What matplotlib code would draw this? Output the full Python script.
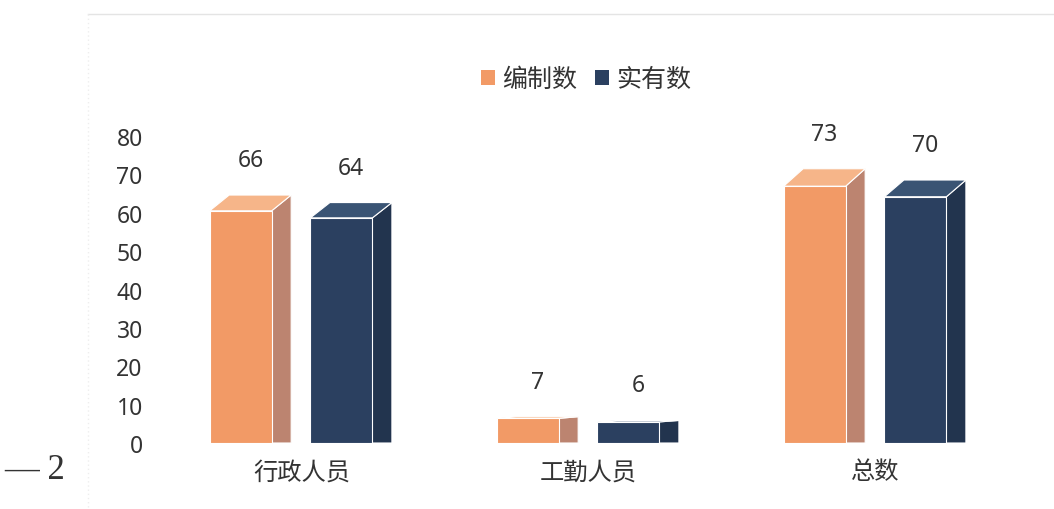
import matplotlib
matplotlib.use("Agg")
import matplotlib.pyplot as plt
from matplotlib.patches import Polygon, Rectangle
from matplotlib.lines import Line2D

plt.rcParams['font.family'] = ['Noto Sans CJK SC', 'DejaVu Sans']

categories = ['行政人员', '工勤人员', '总数']
series_names = ['编制数', '实有数']
planned = [66, 7, 73]
actual = [64, 6, 70]
yticks = [0, 10, 20, 30, 40, 50, 60, 70, 80]

front_colors = ['#F29A66', '#2B4060']
top_colors = ['#F6B589', '#3A5474']
side_colors = ['#BC8470', '#22344E']
text_color = '#333333'
num_family = ['Noto Sans', 'DejaVu Sans']

W, H = 1054, 510
fig = plt.figure(figsize=(W / 100, H / 100), dpi=100)
fig.patch.set_facecolor('white')

left, right = 158 / W, 1019 / W
bottom, top = (H - 444) / H, (H - 137) / H
rect = [left, bottom, right - left, top - bottom]

# tick axis (back wall scale)
ax = fig.add_axes(rect)
ax.set_xlim(-0.5, 2.5)
ax.set_ylim(0, 80)
ax.set_yticks(yticks)
ax.set_yticklabels([str(v) for v in yticks], fontsize=16.5, color=text_color,
                   family=num_family)
ax.set_xticks(range(len(categories)))
ax.set_xticklabels(categories, fontsize=17.5, color=text_color)
ax.tick_params(axis='y', length=0, pad=11)
ax.tick_params(axis='x', length=0, pad=11)
for s in ax.spines.values():
    s.set_visible(False)
ax.patch.set_alpha(0)

# bar axis (front-face scale, perspective-reduced)
bx = fig.add_axes(rect)
bx.set_xlim(-0.5, 2.5)
bx.set_ylim(0, 80 * 3.84 / 3.52)
bx.axis('off')
bx.patch.set_alpha(0)

bw = 0.216
offsets = [-0.32 + bw / 2, 0.031 + bw / 2]
dx = 0.068
kdy = 0.068

for si, vals in enumerate([planned, actual]):
    for ci, v in enumerate(vals):
        xc = ci + offsets[si]
        xl, xr = xc - bw / 2, xc + bw / 2
        dy = kdy * v
        bx.bar(xc, v, width=bw, color=front_colors[si], edgecolor='white',
               linewidth=0.8, zorder=3)
        side = Polygon([(xr, 0), (xr, v), (xr + dx, v + dy), (xr + dx, 0)],
                       closed=True, facecolor=side_colors[si], edgecolor='white',
                       linewidth=0.8, zorder=2)
        bx.add_patch(side)
        topf = Polygon([(xl, v), (xr, v), (xr + dx, v + dy), (xl + dx, v + dy)],
                       closed=True, facecolor=top_colors[si], edgecolor='white',
                       linewidth=0.8, zorder=2)
        bx.add_patch(topf)
        bx.annotate(str(v), xy=(xc + dx / 2, v + dy), xytext=(0, 35),
                    textcoords='offset pixels', ha='center', va='center',
                    fontsize=16.5, color=text_color, family=num_family)

# legend
handles = [Rectangle((0, 0), 1, 1, facecolor=front_colors[i], edgecolor='none')
           for i in range(2)]
fig.legend(handles, series_names, loc='center', bbox_to_anchor=(586 / W, (H - 80) / H),
           ncol=2, frameon=False, fontsize=18, handlelength=0.55, handleheight=0.55,
           handletextpad=0.3, columnspacing=0.7, labelcolor=text_color)

# scanned page frame and page number
fig.add_artist(Line2D([88 / W, 1.0], [(H - 15) / H, (H - 15) / H],
                      transform=fig.transFigure, color='#e4e4e4', linewidth=1))
fig.add_artist(Line2D([88 / W, 88 / W], [(H - 15) / H, 0],
                      transform=fig.transFigure, color='#eeeeee', linewidth=1,
                      linestyle=(0, (1, 2))))
fig.text(4 / W, (H - 471) / H, '— 2', fontsize=25, family='Liberation Serif',
         color='#333333', ha='left', va='center')

fig.savefig('out.png', dpi=100, facecolor='white')
